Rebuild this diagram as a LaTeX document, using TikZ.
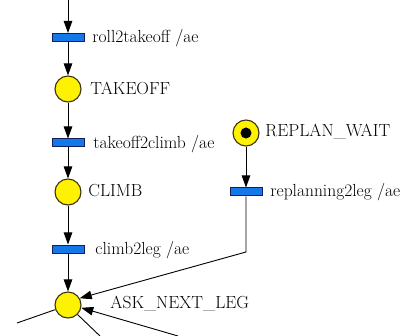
\documentclass[tikz,border=0pt]{standalone}
\usetikzlibrary{arrows.meta}
\definecolor{barblue}{RGB}{20,120,235}
\definecolor{baredge}{RGB}{20,30,90}
\definecolor{circedge}{RGB}{60,50,20}
\begin{document}
\begin{tikzpicture}[x=1pt,y=-1pt,
  every path/.style={line width=0.9pt},
  trans/.style={draw=baredge, fill=barblue, line width=1pt, minimum width=32pt, minimum height=8pt, inner sep=0pt},
  state/.style={circle, draw=circedge, fill=yellow, line width=1.1pt, minimum size=26pt, inner sep=0pt},
  lbl/.style={anchor=west, inner sep=0pt, font=\fontsize{17.5}{20}\selectfont},
  arr/.style={-{Triangle[length=12pt,width=8.5pt]}}]
\useasboundingbox (0,0) rectangle (406,336);
\coordinate (top) at (68,0);
\node[trans] (b1) at (68,37.5) {};
\node[state] (takeoff) at (68,89) {};
\node[trans] (b2) at (68,143) {};
\node[state] (climb) at (68,192) {};
\node[trans] (b3) at (68,249) {};
\node[state] (ask) at (68,305) {};
\node[state] (replan) at (246,133) {};
\fill[black] (replan) circle (5.5);
\node[trans] (b4) at (246,192) {};
\coordinate (corner) at (246,252);
\coordinate (ll) at (17,323);
\coordinate (lr) at (100,336);
\coordinate (inc) at (178,336);
\node[lbl] (l1) at (92,38) {roll2takeoff /ae};
\node[lbl] (l2) at (90,88) {TAKEOFF};
\node[lbl] (l3) at (93,144) {takeoff2climb /ae};
\node[lbl] (l4) at (88,191) {CLIMB};
\node[lbl] (l5) at (95,250) {climb2leg /ae};
\node[lbl] (l6) at (110,303) {ASK\_NEXT\_LEG};
\node[lbl] (l7) at (265,131) {REPLAN\_WAIT};
\node[lbl] (l8) at (270,192) {replanning2leg /ae};
\draw[arr] (top) -- (b1.north);
\draw[arr] (b1.south) -- (takeoff.north);
\draw[arr] (takeoff.south) -- (b2.north);
\draw[arr] (b2.south) -- (climb.north);
\draw[arr] (climb.south) -- (b3.north);
\draw[arr] (b3.south) -- (ask.north);
\draw[arr] (replan.south) -- (b4.north);
\draw[arr] (b4.south) -- (corner) -- (ask.30);
\draw[arr] (inc) -- (ask.-12);
\draw (ask.200) -- (ll);
\draw (ask.-45) -- (lr);
\end{tikzpicture}
\end{document}
